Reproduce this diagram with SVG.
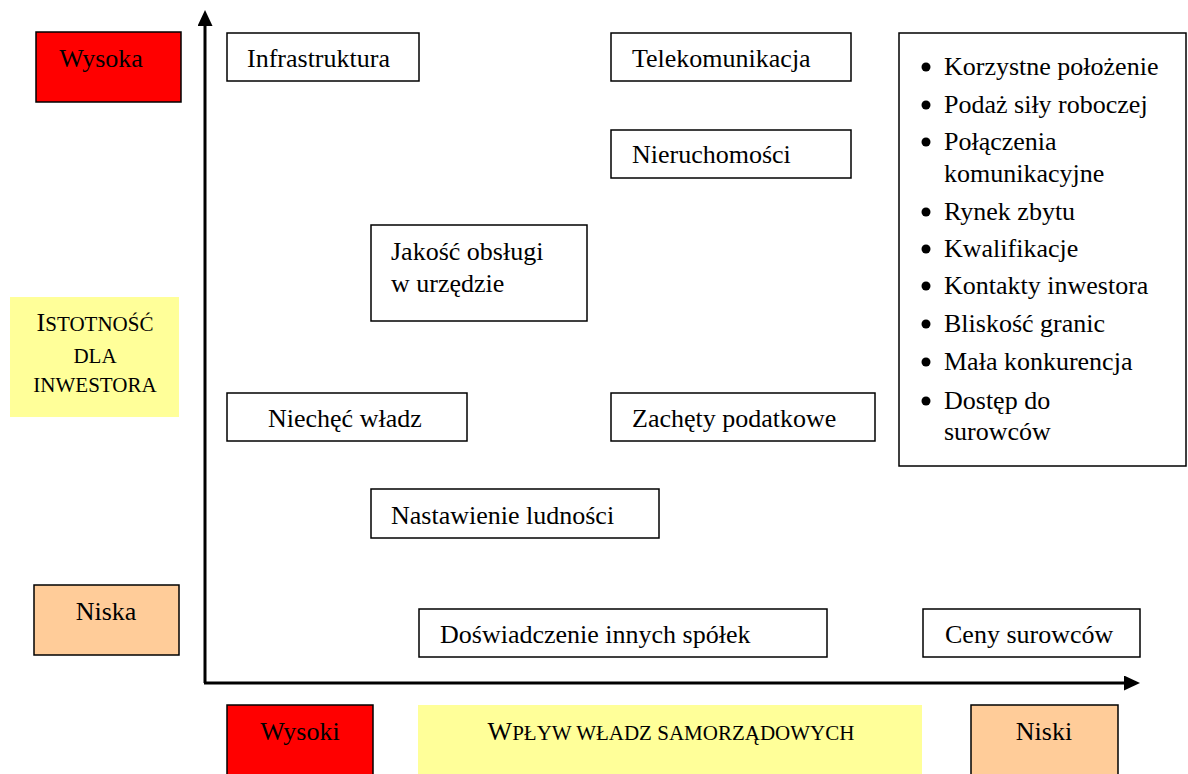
<svg xmlns="http://www.w3.org/2000/svg" width="1188" height="774" viewBox="0 0 1188 774">
  <style>
    text { font-family: "Liberation Serif", "Times New Roman", serif; font-size: 26px; fill: #000; }
    .box { fill: #fff; stroke: #000; stroke-width: 1.5; }
    .red { fill: #ff0000; stroke: #000; stroke-width: 1.5; }
    .peach { fill: #ffcc99; stroke: #000; stroke-width: 1.5; }
    .yellow { fill: #ffff99; stroke: none; }
    .axis { stroke: #000; stroke-width: 3; fill: none; }
    .sc { font-size: 21px; }
    .mid { text-anchor: middle; }
  </style>
  <defs>
    <marker id="arrow" markerWidth="16" markerHeight="15" refX="0" refY="7.5" orient="auto" markerUnits="userSpaceOnUse">
      <path d="M0,0 L16,7.5 L0,15 Z" fill="#000"/>
    </marker>
  </defs>

  <!-- axes -->
  <g id="connectors">
    <path class="axis" d="M205,683 L205,26" marker-end="url(#arrow)"/>
    <path class="axis" d="M204,683 L1124,683" marker-end="url(#arrow)"/>
  </g>

  <!-- vertical scale labels -->
  <g id="wysoka">
    <rect class="red" x="36" y="32" width="145" height="70"/>
    <text x="101" y="67" class="mid">Wysoka</text>
  </g>
  <g id="istotnosc">
    <rect class="yellow" x="10" y="297" width="169" height="120"/>
    <text x="95" y="331" class="mid">I<tspan class="sc">STOTNOŚĆ</tspan></text>
    <text x="95" y="363" class="mid sc">DLA</text>
    <text x="95" y="392" class="mid sc">INWESTORA</text>
  </g>
  <g id="niska">
    <rect class="peach" x="34" y="585" width="145" height="70"/>
    <text x="106" y="620" class="mid">Niska</text>
  </g>

  <!-- horizontal scale labels -->
  <g id="wysoki">
    <rect class="red" x="227" y="705" width="146" height="75"/>
    <text x="300" y="740" class="mid">Wysoki</text>
  </g>
  <g id="wplyw">
    <rect class="yellow" x="418" y="705" width="504" height="75"/>
    <text x="671" y="740" class="mid">W<tspan class="sc">PŁYW WŁADZ SAMORZĄDOWYCH</tspan></text>
  </g>
  <g id="niski">
    <rect class="peach" x="971" y="705" width="147" height="75"/>
    <text x="1044" y="740" class="mid">Niski</text>
  </g>

  <!-- factors -->
  <g id="infrastruktura">
    <rect class="box" x="227" y="33" width="192" height="48"/>
    <text x="247" y="67">Infrastruktura</text>
  </g>
  <g id="telekomunikacja">
    <rect class="box" x="611" y="33" width="240" height="48"/>
    <text x="632" y="67">Telekomunikacja</text>
  </g>
  <g id="nieruchomosci">
    <rect class="box" x="611" y="130" width="240" height="48"/>
    <text x="632" y="163">Nieruchomości</text>
  </g>
  <g id="jakosc">
    <rect class="box" x="371" y="225" width="216" height="96"/>
    <text x="391" y="260">Jakość obsługi</text>
    <text x="391" y="292">w urzędzie</text>
  </g>
  <g id="niechec">
    <rect class="box" x="227" y="393" width="240" height="48"/>
    <text x="268" y="427">Niechęć władz</text>
  </g>
  <g id="zachety">
    <rect class="box" x="611" y="393" width="264" height="48"/>
    <text x="632" y="427">Zachęty podatkowe</text>
  </g>
  <g id="nastawienie">
    <rect class="box" x="371" y="489" width="288" height="49"/>
    <text x="391" y="524">Nastawienie ludności</text>
  </g>
  <g id="doswiadczenie">
    <rect class="box" x="419" y="609" width="408" height="48"/>
    <text x="440" y="643">Doświadczenie innych spółek</text>
  </g>
  <g id="ceny">
    <rect class="box" x="923" y="609" width="217" height="48"/>
    <text x="945" y="643">Ceny surowców</text>
  </g>

  <!-- list of location factors -->
  <g id="lista">
    <rect class="box" x="899" y="33" width="287" height="433"/>
    <g fill="#000">
      <circle cx="926" cy="67" r="4.5"/>
      <circle cx="926" cy="105" r="4.5"/>
      <circle cx="926" cy="142" r="4.5"/>
      <circle cx="926" cy="212" r="4.5"/>
      <circle cx="926" cy="249" r="4.5"/>
      <circle cx="926" cy="286" r="4.5"/>
      <circle cx="926" cy="324" r="4.5"/>
      <circle cx="926" cy="362" r="4.5"/>
      <circle cx="926" cy="401" r="4.5"/>
    </g>
    <text x="944" y="75">Korzystne położenie</text>
    <text x="944" y="113">Podaż siły roboczej</text>
    <text x="944" y="150">Połączenia</text>
    <text x="944" y="182">komunikacyjne</text>
    <text x="944" y="220">Rynek zbytu</text>
    <text x="944" y="257">Kwalifikacje</text>
    <text x="944" y="294">Kontakty inwestora</text>
    <text x="944" y="332">Bliskość granic</text>
    <text x="944" y="370">Mała konkurencja</text>
    <text x="944" y="409">Dostęp do</text>
    <text x="944" y="440">surowców</text>
  </g>
</svg>
